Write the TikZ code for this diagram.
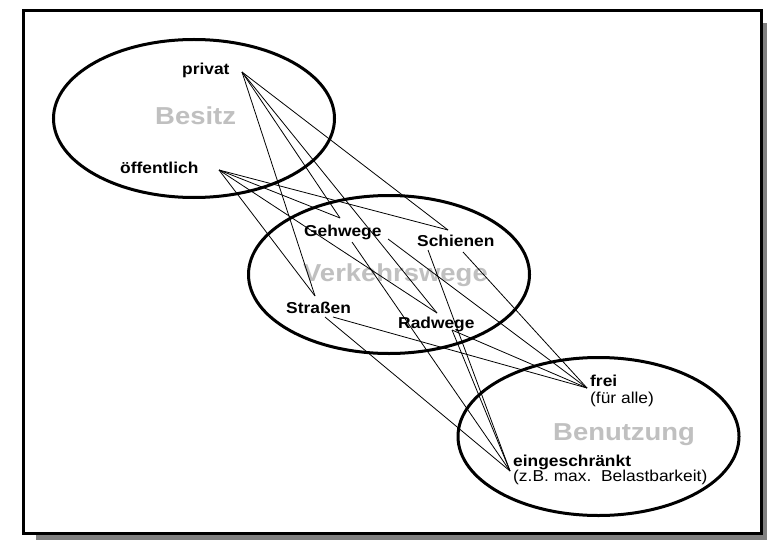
\documentclass[tikz,border=0pt]{standalone}
\usepackage{fontspec}
\setmainfont{Liberation Sans}
\newfontfamily\labelfont[FakeStretch=1.1]{Liberation Sans}
\newfontfamily\titlefont[FakeStretch=1.12]{Liberation Sans}
\usetikzlibrary{shapes.geometric}
\definecolor{shadowgray}{RGB}{128,128,128}
\definecolor{titlegray}{RGB}{192,192,192}
\begin{document}
\begin{tikzpicture}[x=1pt,y=-1pt,
  area/.style={draw, line width=3pt, ellipse, minimum width=281pt, minimum height=158pt, inner sep=0pt},
  item/.style={font=\labelfont\fontsize{15.8}{17}\selectfont\bfseries, anchor=base west, inner sep=0pt},
  note/.style={font=\labelfont\fontsize{15.8}{17}\selectfont, anchor=base west, inner sep=0pt},
  title/.style={font=\titlefont\fontsize{24.5}{27}\selectfont\bfseries, text=titlegray, anchor=base west, inner sep=0pt},
  link/.style={line width=0.8pt}]
\useasboundingbox (0,0) rectangle (767,540);
% frame with drop shadow
\fill[shadowgray] (36,23) rectangle (767,540);
\draw[line width=3pt, fill=white] (23.5,10.5) rectangle (761.5,533.5);

% the three areas
\node[area] (besitz) at (194,118.5) {};
\node[area] (wege) at (389,274.5) {};
\node[area] (nutzung) at (598.5,436.5) {};

% area titles
\node[title] (besitzT) at (155,125) {Besitz};
\node[title] (wegeT) at (303,281) {Verkehrswege};
\node[title] (nutzT) at (553,440) {Benutzung};

% entries
\node[item] (privat) at (182,75) {privat};
\node[item] (oeff) at (120,173) {öffentlich};
\node[item] (geh) at (304,236) {Gehwege};
\node[item] (schien) at (417,246) {Schienen};
\node[item] (strassen) at (286,313) {Straßen};
\node[item] (rad) at (398,328) {Radwege};
\node[item] (frei) at (590,386) {frei};
\node[note] (freiN) at (590,403) {(für alle)};
\node[item] (einge) at (513,466) {eingeschränkt};
\node[note] (eingeN) at (513,481) {(z.B. max.\ \ Belastbarkeit)};

% connection points
\coordinate (pP) at (242,72);
\coordinate (pO) at (219,170);
\coordinate (sIn) at (315,296);
\coordinate (gIn) at (340,218);
\coordinate (schIn) at (448,230);
\coordinate (rIn) at (437,313);
\coordinate (sOutE) at (325,317);
\coordinate (sOutF) at (333,317);
\coordinate (gOutE) at (352,242);
\coordinate (gOutF) at (388,239);
\coordinate (schOutE) at (428,250);
\coordinate (schOutF) at (463,252);
\coordinate (rOut) at (452,330);
\coordinate (fIn) at (587,388);
\coordinate (eIn) at (510,471);

% ownership to ways
\draw[link] (pP) -- (sIn);
\draw[link] (pP) -- (gIn);
\draw[link] (pP) -- (rIn);
\draw[link] (pP) -- (schIn);
\draw[link] (pO) -- (sIn);
\draw[link] (pO) -- (gIn);
\draw[link] (pO) -- (rIn);
\draw[link] (pO) -- (schIn);

% ways to usage
\draw[link] (sOutE) -- (eIn);
\draw[link] (sOutF) -- (fIn);
\draw[link] (gOutE) -- (eIn);
\draw[link] (gOutF) -- (fIn);
\draw[link] (schOutE) -- (eIn);
\draw[link] (schOutF) -- (fIn);
\draw[link] (rOut) -- (fIn);
\draw[link] (rOut) -- (eIn);
\end{tikzpicture}
\end{document}
